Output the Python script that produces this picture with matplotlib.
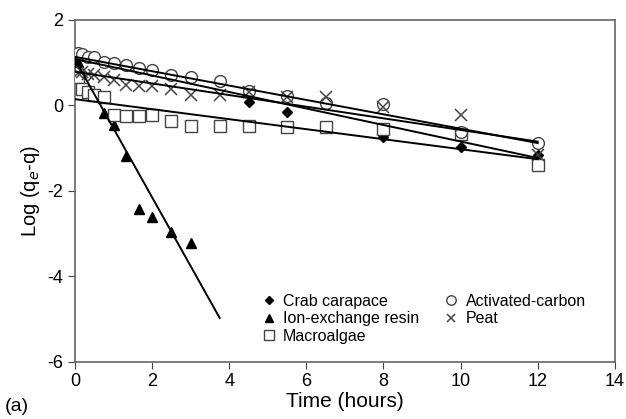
import numpy as np
import matplotlib.pyplot as plt

plt.rcParams['font.family'] = ['Liberation Sans', 'DejaVu Sans']
plt.rcParams['axes.unicode_minus'] = False

# sampling times (hours)
t = [0.083, 0.167, 0.333, 0.5, 0.75, 1.0, 1.33, 1.67, 2.0, 2.5, 3.0, 3.75,
     4.5, 5.5, 6.5, 8.0, 10.0, 12.0]

crab = [1.17, 1.15, 1.11, 1.1, 1.0, 0.97, 0.93, 0.9, 0.81, 0.7, 0.66, 0.56,
        0.08, -0.17, 0.04, -0.75, -0.99, -1.17]
carbon = [1.21, 1.19, 1.13, 1.13, 1.02, 0.99, 0.94, 0.86, 0.82, 0.71, 0.67, 0.57,
          0.32, 0.22, 0.04, 0.02, -0.62, -0.89]
peat = [0.75, 0.78, 0.73, 0.71, 0.67, 0.59, 0.47, 0.45, 0.45, 0.37, 0.24, 0.24,
        0.3, 0.2, 0.2, -0.04, -0.23, -1.17]
algae = [0.67, 0.39, 0.3, 0.23, 0.19, -0.23, -0.26, -0.25, -0.23, -0.38, -0.48, -0.48,
         -0.48, -0.5, -0.5, -0.56, -0.68, -1.40]

t_resin = [0.083, 0.75, 1.0, 1.33, 1.67, 2.0, 2.5, 3.0]
resin = [1.0, -0.19, -0.46, -1.18, -2.44, -2.62, -2.97, -3.22]

# first-order fits: (intercept, slope, t_end)
fits = {
    'crab': (1.08, -0.193, 12.0),
    'carbon': (1.13, -0.168, 12.0),
    'peat': (0.78, -0.136, 12.0),
    'algae': (0.14, -0.117, 12.0),
    'resin': (1.06, -1.61, 3.75),
}

fig = plt.figure(figsize=(6.26, 4.19), dpi=100)
ax = fig.add_axes([0.12, 0.137, 0.862, 0.816])

# fit lines drawn over the hollow markers
for a, b, tend in fits.values():
    tt = np.array([0.0, tend])
    ax.plot(tt, a + b * tt, color='black', lw=1.4, zorder=5)

grey = '#444444'
h_crab, = ax.plot(t, crab, 'D', color='black', ms=5.5, ls='none', zorder=2,
                  label='Crab carapace')
h_resin, = ax.plot(t_resin, resin, '^', color='black', ms=7.5, ls='none', zorder=3,
                   label='Ion-exchange resin')
h_algae, = ax.plot(t, algae, 's', mfc='white', mec=grey, mew=1.0, ms=8.5, ls='none',
                   zorder=3, label='Macroalgae')
h_carbon, = ax.plot(t, carbon, 'o', mfc='white', mec=grey, mew=1.0, ms=8.5, ls='none',
                    zorder=4, label='Activated-carbon')
h_peat, = ax.plot(t, peat, 'x', color=grey, mew=1.1, ms=8, ls='none', zorder=4.5,
                  label='Peat')

ax.set_xlim(0, 14)
ax.set_ylim(-6, 2)
ax.set_xticks(range(0, 15, 2))
ax.set_yticks(range(-6, 3, 2))
ax.tick_params(direction='out', length=5, labelsize=13, color=grey)
for s in ax.spines.values():
    s.set_color('#666666')
    s.set_linewidth(1.2)

ax.set_xlabel('Time (hours)', fontsize=15, labelpad=1)
ax.set_ylabel('Log (q$_e$-q)', fontsize=14.5, labelpad=4)
fig.text(0.008, 0.018, '(a)', fontsize=14)

ax.legend(handles=[h_crab, h_resin, h_algae, h_carbon, h_peat], ncol=2,
          frameon=False, fontsize=11.5, loc='lower right', markerscale=0.8,
          bbox_to_anchor=(0.967, 0.02), handlelength=0.8, handletextpad=0.5,
          columnspacing=1.6, labelspacing=0.15, borderaxespad=0.3)

fig.savefig('out.png', dpi=100)
